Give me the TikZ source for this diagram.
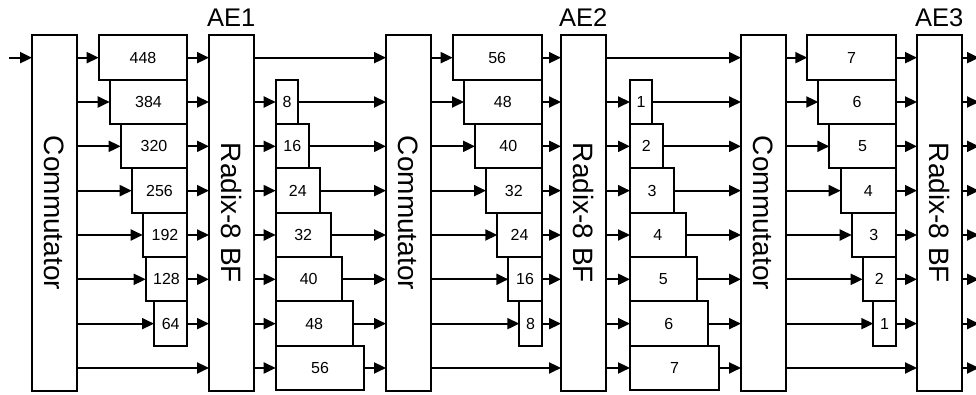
\documentclass[tikz,border=0pt]{standalone}
\usepackage{fontspec}
\setmainfont{Liberation Sans}
\usetikzlibrary{arrows.meta}
\begin{document}
\begin{tikzpicture}[x=1pt,y=-1pt,
  every node/.style={inner sep=0pt,outer sep=0pt},
  tall/.style={draw,line width=2pt,fill=white,minimum width=44.5pt,minimum height=355pt,anchor=north west},
  dbox/.style={draw,line width=2pt,fill=white,minimum height=44.33pt,anchor=north west,font=\fontsize{16}{17}\selectfont},
  sig/.style={line width=2pt,-{Triangle[length=12pt,width=11pt]}},
  lbl/.style={font=\fontsize{28}{29}\selectfont,rotate=-90},
  ae/.style={font=\fontsize{25.5}{27}\selectfont,anchor=base}
]
\useasboundingbox (0,0) rectangle (976,395);
% row reference coordinates
\foreach \i in {0,...,7}{
  \pgfmathsetmacro\yc{35.5+44.33*(\i+0.5)}
  \coordinate (r\i) at (0,\yc);
}
% tall blocks
\node[tall] (com1) at (32,35.5) {};
\node[tall] (bf1) at (209,35.5) {};
\node[tall] (com2) at (386,35.5) {};
\node[tall] (bf2) at (561,35.5) {};
\node[tall] (com3) at (741,35.5) {};
\node[tall] (bf3) at (917,35.5) {};
\node[lbl] (tc1) at (com1.center) {Commutator};
\node[lbl] (tc2) at (com2.center) {Commutator};
\node[lbl] (tc3) at (com3.center) {Commutator};
\node[lbl] (tb1) at (bf1.center) {Radix-8 BF};
\node[lbl] (tb2) at (bf2.center) {Radix-8 BF};
\node[lbl] (tb3) at (bf3.center) {Radix-8 BF};
\node[ae] (ae1) at ([yshift=8.5pt]bf1.north) {AE1};
\node[ae] (ae2) at ([yshift=8.5pt]bf2.north) {AE2};
\node[ae] (ae3) at ([yshift=8.5pt]bf3.north) {AE3};
% stage A delays
\foreach \l/\lab [count=\i from 0] in {98.7/448,109.7/384,120.7/320,131.7/256,142.7/192,145.7/128,154/64}{
  \pgfmathsetmacro\w{187.3-\l}
  \pgfmathsetmacro\yt{35.5+44.33*\i}
  \node[dbox,minimum width=\w pt] (da\i) at (\l,\yt) {\lab};
  \draw[sig] (com1.east |- da\i.west) -- (da\i.west);
  \draw[sig] (da\i.east) -- (bf1.west |- da\i.east);
}
% stage B delays
\foreach \r/\lab [count=\i from 1] in {298.3/8,309/16,320/24,330.7/32,341.7/40,352.7/48,364.3/56}{
  \pgfmathsetmacro\w{\r-275.7}
  \pgfmathsetmacro\yt{35.5+44.33*\i}
  \node[dbox,minimum width=\w pt] (db\i) at (275.7,\yt) {\lab};
  \draw[sig] (bf1.east |- db\i.west) -- (db\i.west);
  \draw[sig] (db\i.east) -- (com2.west |- db\i.east);
}
% stage C delays
\foreach \l/\lab [count=\i from 0] in {452.7/56,464/48,475/40,486/32,497.3/24,508.3/16,519.3/8}{
  \pgfmathsetmacro\w{541.7-\l}
  \pgfmathsetmacro\yt{35.5+44.33*\i}
  \node[dbox,minimum width=\w pt] (dc\i) at (\l,\yt) {\lab};
  \draw[sig] (com2.east |- dc\i.west) -- (dc\i.west);
  \draw[sig] (dc\i.east) -- (bf2.west |- dc\i.east);
}
% stage D delays
\foreach \r/\lab [count=\i from 1] in {652.3/1,662.7/2,674/3,685.7/4,696.7/5,707.7/6,719/7}{
  \pgfmathsetmacro\w{\r-630}
  \pgfmathsetmacro\yt{35.5+44.33*\i}
  \node[dbox,minimum width=\w pt] (dd\i) at (630,\yt) {\lab};
  \draw[sig] (bf2.east |- dd\i.west) -- (dd\i.west);
  \draw[sig] (dd\i.east) -- (com3.west |- dd\i.east);
}
% stage E delays
\foreach \l/\lab [count=\i from 0] in {807.3/7,818.3/6,829.3/5,840.7/4,851.7/3,862.7/2,873.3/1}{
  \pgfmathsetmacro\w{896-\l}
  \pgfmathsetmacro\yt{35.5+44.33*\i}
  \node[dbox,minimum width=\w pt] (de\i) at (\l,\yt) {\lab};
  \draw[sig] (com3.east |- de\i.west) -- (de\i.west);
  \draw[sig] (de\i.east) -- (bf3.west |- de\i.east);
}
% direct connections
\coordinate (in) at (9,0);
\draw[sig] (in |- r0) -- (com1.west |- r0);
\draw[sig] (com1.east |- r7) -- (bf1.west |- r7);
\draw[sig] (bf1.east |- r0) -- (com2.west |- r0);
\draw[sig] (com2.east |- r7) -- (bf2.west |- r7);
\draw[sig] (bf2.east |- r0) -- (com3.west |- r0);
\draw[sig] (com3.east |- r7) -- (bf3.west |- r7);
% outputs
\coordinate (out) at (979,0);
\foreach \i in {0,...,7}{
  \draw[sig] (bf3.east |- r\i) -- (out |- r\i);
}
\end{tikzpicture}
\end{document}
